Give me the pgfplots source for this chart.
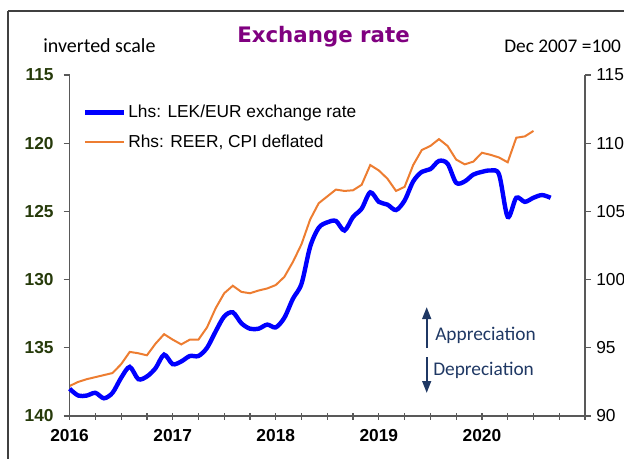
\documentclass[border=0pt]{standalone}
\usepackage{fontspec}
\setmainfont{Liberation Sans}
\newfontfamily\carlito{Carlito}
\newfontfamily\dejavu{DejaVu Sans}
\usepackage{pgfplots}
\usepackage{pgfplotstable}
\pgfplotsset{compat=1.18}
\usetikzlibrary{arrows.meta}
\definecolor{blueline}{RGB}{0,0,255}
\definecolor{orangeline}{RGB}{237,125,49}
\definecolor{navy}{RGB}{31,56,100}
\definecolor{titlepurple}{RGB}{128,0,128}
\definecolor{lhsgreen}{RGB}{38,58,10}
\definecolor{axisgray}{RGB}{89,89,89}
\definecolor{framegray}{RGB}{64,64,64}

\pgfplotstableread{
m v
0 138.0
1 138.5
2 138.5
3 138.3
4 138.7
5 138.3
6 137.2
7 136.4
8 137.3
9 137.1
10 136.5
11 135.5
12 136.2
13 136.0
14 135.6
15 135.6
16 135.0
17 133.8
18 132.7
19 132.4
20 133.2
21 133.6
22 133.6
23 133.3
24 133.5
25 132.8
26 131.4
27 130.3
28 127.6
29 126.2
30 125.8
31 125.7
32 126.4
33 125.4
34 124.8
35 123.6
36 124.3
37 124.5
38 124.9
39 124.2
40 122.8
41 122.1
42 121.9
43 121.3
44 121.5
45 122.9
46 122.8
47 122.3
48 122.1
49 122.0
50 122.3
51 125.4
52 124.0
53 124.3
54 124.0
55 123.8
56 124.0
}\lekeur

\pgfplotstableread{
m v
0 92.2
1 92.5
2 92.7
3 92.85
4 93.0
5 93.15
6 93.8
7 94.7
8 94.6
9 94.45
10 95.3
11 96.0
12 95.6
13 95.25
14 95.6
15 95.6
16 96.5
17 97.9
18 99.0
19 99.55
20 99.1
21 99.0
22 99.2
23 99.35
24 99.6
25 100.2
26 101.3
27 102.6
28 104.4
29 105.6
30 106.1
31 106.6
32 106.5
33 106.55
34 106.95
35 108.4
36 108.0
37 107.4
38 106.5
39 106.8
40 108.4
41 109.5
42 109.8
43 110.3
44 109.8
45 108.8
46 108.45
47 108.65
48 109.3
49 109.15
50 108.95
51 108.6
52 110.4
53 110.5
54 110.9
}\reer

\newcommand{\PX}[2]{({(#1)*0.75pt},{(458-(#2))*0.75pt})}

\pgfplotsset{
  base/.style={
    scale only axis, width=386.55pt, height=255.75pt,
    at={(52.2pt,31.5pt)}, anchor=south west,
    xmin=2016, xmax=2021,
    axis line style={axisgray, line width=0.9pt, -},
    every tick/.style={axisgray, line width=0.9pt},
    /pgf/number format/assume math mode=true,
    clip=false,
  }
}

\begin{document}
\begin{tikzpicture}
\useasboundingbox (0,0) rectangle (468pt,343.5pt);
\draw[framegray, line width=1.1pt] \PX{8}{11} -- \PX{650}{11};
\draw[framegray, line width=1.1pt] \PX{8}{11} -- \PX{8}{480};

% x axis
\begin{axis}[base,
  axis y line=none, axis x line*=bottom,
  ymin=0, ymax=1,
  xtick={2016,2017,2018,2019,2020,2021},
  xticklabels={2016,2017,2018,2019,2020,{}},
  minor x tick num=3,
  tick align=center,
  major tick length=5.25pt, minor tick length=5.25pt,
  xticklabel style={font=\bfseries\fontsize{13}{15}\selectfont, text=black, yshift=-4pt},
]
\end{axis}

% right axis, REER
\begin{axis}[base,
  axis x line=none, axis y line*=right,
  ymin=90, ymax=115,
  ytick={90,95,100,105,110,115},
  tick align=outside, major tick length=4.5pt,
  yticklabel style={font=\fontsize{13}{15}\selectfont, text=black, xshift=0.5pt},
]
\addplot[orangeline, line width=1.5pt] table[x expr=2016+\thisrow{m}/12, y=v]{\reer};
\end{axis}

% left axis, LEK/EUR, inverted
\begin{axis}[base,
  axis x line=none, axis y line*=left,
  ymin=115, ymax=140, y dir=reverse,
  ytick={115,120,125,130,135,140},
  tick align=outside, major tick length=4.5pt,
  yticklabel style={font=\bfseries\fontsize{13}{15}\selectfont, text=lhsgreen, xshift=-4pt},
  legend style={at={(0.026,0.918)}, anchor=north west, draw=none, fill=none,
    font=\fontsize{13}{15}\selectfont, row sep=8.5pt, inner sep=0pt,
    nodes={inner sep=1.5pt}},
  legend cell align=left,
  legend image code/.code={\draw[#1] (0pt,0pt) -- (29pt,0pt);},
]
\addplot[blueline, line width=3.3pt, smooth, tension=0.5] table[x expr=2016+\thisrow{m}/12, y=v]{\lekeur};
\addlegendentry{Lhs: LEK/EUR exchange rate}
\addlegendimage{orangeline, line width=1.5pt}
\addlegendentry{Rhs: REER, CPI deflated}
\end{axis}

% titles
\node[anchor=base, font=\dejavu\bfseries\fontsize{16}{19}\selectfont, text=titlepurple, inner sep=0pt] at \PX{323.5}{43} {Exchange rate};
\node[anchor=base west, font=\carlito\fontsize{15}{18}\selectfont, inner sep=0pt] at \PX{43}{53} {inverted scale};
\node[anchor=base west, font=\carlito\fontsize{14.5}{18}\selectfont, inner sep=0pt] at \PX{504}{53} {Dec 2007 =100};

% appreciation / depreciation
\draw[navy, line width=1.6pt, -{Triangle[length=9pt,width=6.5pt]}] \PX{426.7}{348} -- \PX{426.7}{307};
\draw[navy, line width=1.6pt, -{Triangle[length=9pt,width=6.5pt]}] \PX{426.7}{357} -- \PX{426.7}{393};
\node[anchor=base west, font=\carlito\fontsize{14.5}{18}\selectfont, text=navy, inner sep=0pt] at \PX{435}{340} {Appreciation};
\node[anchor=base west, font=\carlito\fontsize{14.5}{18}\selectfont, text=navy, inner sep=0pt] at \PX{433}{375} {Depreciation};
\end{tikzpicture}
\end{document}
